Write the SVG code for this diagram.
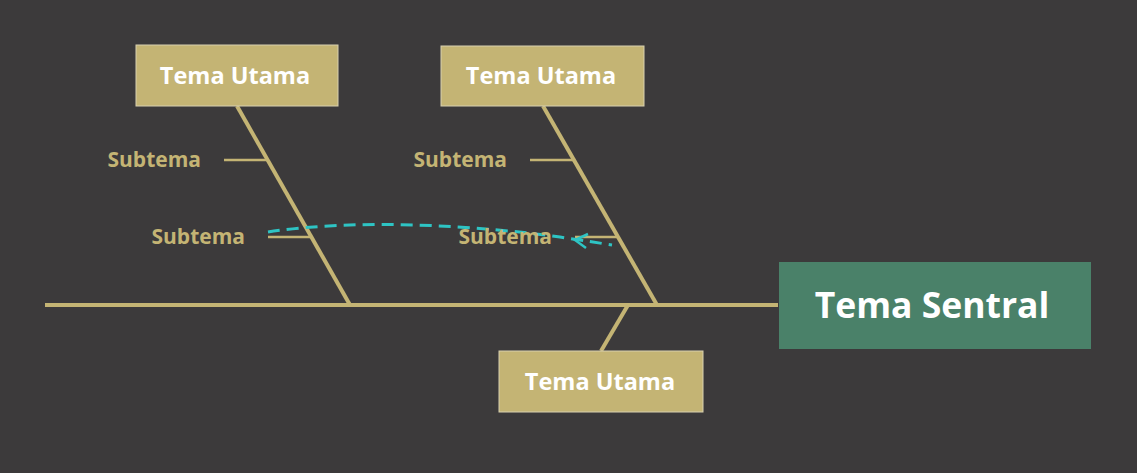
<svg xmlns="http://www.w3.org/2000/svg" width="1137" height="473" viewBox="0 0 1137 473">
<style>
.box{fill:#c4b474;stroke:#d8d0b0;stroke-width:1}
.bt{font-family:"Open Sans","Noto Sans",sans-serif;font-weight:bold;font-size:23.5px;fill:#fff;text-anchor:middle}
.sub{font-family:"Open Sans","Noto Sans",sans-serif;font-weight:bold;font-size:21px;fill:#c4b474;text-anchor:end}
.bone{stroke:#c4b474;stroke-width:4;fill:none}
.tick{stroke:#c4b474;stroke-width:2.5;fill:none}
</style>
<rect width="1137" height="473" fill="#3c3a3b"/>
<g id="connectors">
<line class="bone" x1="45" y1="305" x2="778" y2="305"/>
<line class="bone" x1="237" y1="106" x2="350" y2="305"/>
<line class="bone" x1="543" y1="106" x2="657" y2="305"/>
<line class="bone" x1="628" y1="305" x2="601" y2="351"/>
<line class="tick" x1="224" y1="160" x2="268" y2="160"/>
<line class="tick" x1="268" y1="237" x2="312" y2="237"/>
<line class="tick" x1="530" y1="160" x2="573" y2="160"/>
<line class="tick" x1="575" y1="237" x2="618" y2="237"/>
<path d="M268,232 C360,218 480,226 560,237 C585,241 600,243 612,245" fill="none" stroke="#2ec4c4" stroke-width="3" stroke-dasharray="12,7"/>
<path d="M588,234 L575,240 L586,248" fill="none" stroke="#2ec4c4" stroke-width="2.5"/>
</g>
<g id="sub1"><text class="sub" x="201" y="167">Subtema</text></g>
<g id="sub2"><text class="sub" x="245" y="244">Subtema</text></g>
<g id="sub3"><text class="sub" x="507" y="167">Subtema</text></g>
<g id="sub4"><text class="sub" x="552" y="244">Subtema</text></g>
<g id="t1"><rect class="box" x="136" y="45" width="202" height="61"/><text class="bt" x="235" y="84">Tema Utama</text></g>
<g id="t2"><rect class="box" x="441" y="46" width="203" height="60"/><text class="bt" x="541" y="84">Tema Utama</text></g>
<g id="t3"><rect class="box" x="499" y="351" width="204" height="61"/><text class="bt" x="600" y="390">Tema Utama</text></g>
<g id="central"><rect x="779" y="262" width="312" height="87" fill="#4a8169"/><text x="932" y="318" font-family="'Open Sans','Noto Sans',sans-serif" font-weight="bold" font-size="35.5" fill="#fff" text-anchor="middle">Tema Sentral</text></g>
</svg>
